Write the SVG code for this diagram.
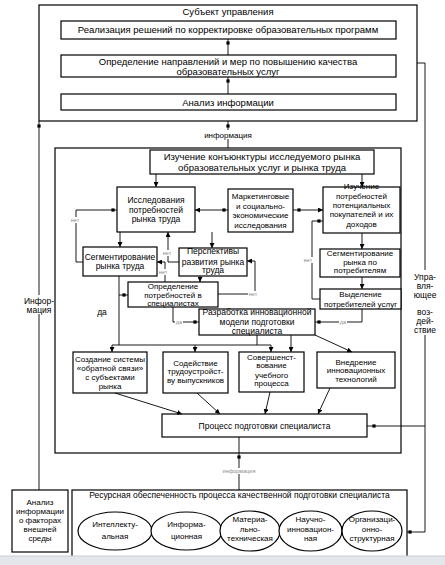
<svg xmlns="http://www.w3.org/2000/svg" width="445" height="565" viewBox="0 0 445 565">
<defs>
<style>
.b{fill:#fff;stroke:#000;stroke-width:1.2}
.f{fill:none;stroke:#000;stroke-width:1.2}
.c{fill:none;stroke:#000;stroke-width:0.9}
.a{marker-end:url(#ar)}
.wb{fill:#fff;stroke:none}
text{font-family:"Liberation Sans",Arial,sans-serif;text-anchor:middle;fill:#000}
.t{font-size:8.5px}
.n{font-size:8px}
.h{font-size:9.5px}
.s{font-size:5.5px;fill:#8c8c8c}
</style>
<marker id="ar" viewBox="0 0 6 6" refX="6" refY="3" markerWidth="5" markerHeight="5" orient="auto" markerUnits="userSpaceOnUse"><path d="M0,0 L6,3 L0,6 z" fill="#000"/></marker>
<rect id="sq" x="-1.6" y="-1.6" width="3.2" height="3.2" fill="#000"/>
</defs>
<rect width="445" height="565" fill="#fff"/>

<g id="subject"><rect class="f" x="39" y="5" width="378" height="116"/><text class="h" x="228" y="14.5">Субъект управления</text></g>
<g id="realization"><rect class="b" x="61" y="21" width="335" height="18"/><text class="h" x="228" y="33">Реализация решений по корректировке образовательных программ</text></g>
<g id="directions"><rect class="b" x="61" y="55" width="335" height="22"/><text class="h" x="228" y="64.5">Определение направлений и мер по повышению качества</text><text class="h" x="228" y="74.5">образовательных услуг</text></g>
<g id="analysis"><rect class="b" x="61" y="94" width="335" height="16"/><text class="h" x="228" y="105.5">Анализ информации</text></g>

<g id="market-frame"><rect class="f" x="55" y="148" width="346" height="305"/></g>
<g id="conjuncture"><rect class="b" x="150" y="150" width="224" height="24"/><text class="h" x="262" y="159.5">Изучение конъюнктуры исследуемого рынка</text><text class="h" x="262" y="170.5">образовательных услуг и рынка труда</text></g>
<g id="labor-research"><rect class="b" x="117" y="187" width="78" height="45"/><text class="t" x="156" y="203">Исследования</text><text class="t" x="156" y="212.5">потребностей</text><text class="t" x="156" y="222">рынка труда</text></g>
<g id="marketing"><rect class="b" x="228" y="189" width="65" height="43"/><text class="n" x="260.5" y="199">Маркетинговые</text><text class="n" x="260.5" y="208.5">и социально-</text><text class="n" x="260.5" y="218">экономические</text><text class="n" x="260.5" y="227.5">исследования</text></g>
<g id="buyers"><rect class="b" x="323" y="187" width="77" height="46"/><text class="n" x="361.5" y="189">Изучение</text><text class="n" x="361.5" y="198.5">потребностей</text><text class="n" x="361.5" y="208">потенциальных</text><text class="n" x="361.5" y="217">покупателей и их</text><text class="n" x="361.5" y="226.5">доходов</text></g>
<g id="labor-seg"><rect class="b" x="83" y="247" width="74" height="29"/><text class="t" x="120" y="259.5">Сегментирование</text><text class="t" x="120" y="269">рынка труда</text></g>
<g id="prospects"><rect class="b" x="179" y="248" width="68" height="28"/><text class="t" x="213" y="254">Перспективы</text><text class="t" x="213" y="264.5">развития рынка</text><text class="t" x="213" y="273">труда</text></g>
<g id="needs"><rect class="b" x="128" y="282" width="90" height="25"/><text class="n" x="173" y="289">Определение</text><text class="n" x="173" y="297.5">потребностей в</text><text class="n" x="173" y="306">специалистах</text></g>
<g id="consumer-seg"><rect class="b" x="320" y="249" width="80" height="28"/><text class="n" x="360" y="256">Сегментирование</text><text class="n" x="360" y="264.5">рынка по</text><text class="n" x="360" y="272.5">потребителям</text></g>
<g id="consumers"><rect class="b" x="320" y="289" width="81" height="20"/><text class="n" x="360.5" y="297">Выделение</text><text class="n" x="360.5" y="307">потребителей услуг</text></g>
<g id="model"><rect class="b" x="199" y="309" width="116" height="26"/><text class="t" x="257" y="315">Разработка инновационной</text><text class="t" x="257" y="325">модели подготовки</text><text class="t" x="257" y="334">специалиста</text></g>
<g id="feedback"><rect class="b" x="73" y="352" width="74" height="41"/><text class="n" x="110" y="361.5">Создание системы</text><text class="n" x="110" y="370.5">«обратной связи»</text><text class="n" x="110" y="379.5">с субъектами</text><text class="n" x="110" y="388.5">рынка</text></g>
<g id="employment"><rect class="b" x="163" y="352" width="65" height="41"/><text class="n" x="195.5" y="365.5">Содействие</text><text class="n" x="195.5" y="374">трудоустройст-</text><text class="n" x="195.5" y="382.5">ву выпускников</text></g>
<g id="improvement"><rect class="b" x="239" y="352" width="65" height="40"/><text class="n" x="271.5" y="359.5">Совершенст-</text><text class="n" x="271.5" y="368">вование</text><text class="n" x="271.5" y="377.5">учебного</text><text class="n" x="271.5" y="386">процесса</text></g>
<g id="innovation"><rect class="b" x="317" y="352" width="78" height="36"/><text class="n" x="356" y="364.5">Внедрение</text><text class="n" x="356" y="373">инновационных</text><text class="n" x="356" y="381.5">технологий</text></g>
<g id="process"><rect class="b" x="162" y="414" width="205" height="23"/><text class="t" x="264.5" y="429">Процесс подготовки специалиста</text></g>
<g id="external"><rect class="b" x="12" y="490" width="56" height="62"/><text class="n" x="40" y="505">Анализ</text><text class="n" x="40" y="514">информации</text><text class="n" x="40" y="523">о факторах</text><text class="n" x="40" y="532">внешней</text><text class="n" x="40" y="541">среды</text></g>
<g id="resources"><rect class="f" x="72" y="490" width="335" height="75"/><text class="t" x="239.5" y="497.5">Ресурсная обеспеченность процесса качественной подготовки специалиста</text></g>
<g id="intellectual"><ellipse class="b" cx="115" cy="531" rx="37" ry="19"/><text class="n" x="115" y="527">Интеллекту-</text><text class="n" x="115" y="539">альная</text></g>
<g id="informational"><ellipse class="b" cx="186.5" cy="531" rx="35.5" ry="19"/><text class="n" x="186.5" y="527">Информа-</text><text class="n" x="186.5" y="539">ционная</text></g>
<g id="material"><ellipse class="b" cx="250" cy="531" rx="30" ry="20"/><text class="n" x="250" y="522">Материа-</text><text class="n" x="250" y="531.5">льно-</text><text class="n" x="250" y="541">техническая</text></g>
<g id="scientific"><ellipse class="b" cx="310.5" cy="531" rx="31.5" ry="20"/><text class="n" x="310.5" y="522">Научно-</text><text class="n" x="310.5" y="531.5">инновацион-</text><text class="n" x="310.5" y="541">ная</text></g>
<g id="organizational"><ellipse class="b" cx="372" cy="531" rx="30" ry="20"/><text class="n" x="372" y="522">Организаци-</text><text class="n" x="372" y="531.5">онно-</text><text class="n" x="372" y="541">структурная</text></g>

<g id="connectors">
<line class="c" x1="228" y1="39" x2="228" y2="55"/><use href="#sq" x="228" y="43"/>
<line class="c" x1="228" y1="77" x2="228" y2="94"/><use href="#sq" x="228" y="81"/>
<line class="c" x1="228" y1="121" x2="228" y2="148"/><use href="#sq" x="228" y="126"/>
<line class="c" x1="39" y1="121" x2="39" y2="490"/><use href="#sq" x="39" y="126"/>
<polyline class="c" points="417,63 425,63 425,532 407,532"/><use href="#sq" x="410" y="532"/>
<line class="c" x1="425" y1="426" x2="367" y2="426"/><use href="#sq" x="374" y="426"/>

<line class="c a" x1="156" y1="174" x2="156" y2="187"/>
<line class="c a" x1="362" y1="174" x2="362" y2="187"/>
<line class="c a" x1="228" y1="210" x2="195" y2="210"/><use href="#sq" x="224" y="210"/>
<line class="c a" x1="293" y1="210" x2="323" y2="210"/><use href="#sq" x="299" y="210"/>
<line class="c a" x1="120" y1="232" x2="120" y2="247"/>
<line class="c a" x1="212" y1="232" x2="212" y2="248"/>
<polyline class="c a" points="179,262 168,262 168,232"/>
<polyline class="c" points="83,262 76,262 76,210 117,210"/><use href="#sq" x="113" y="210"/>
<polyline class="c a" points="165,282 165,262 157,262"/>
<line class="c a" x1="200" y1="276" x2="200" y2="282"/>
<polyline class="c a" points="218,294 255,294 255,261 247,261"/>
<line class="c" x1="119" y1="276" x2="119" y2="345"/>
<line class="c" x1="119" y1="295" x2="128" y2="295"/><use href="#sq" x="124" y="295"/>
<line class="c" x1="112" y1="345" x2="271" y2="345"/>
<line class="c a" x1="112" y1="345" x2="112" y2="352"/>
<line class="c a" x1="195" y1="345" x2="195" y2="352"/>
<line class="c a" x1="271" y1="345" x2="271" y2="352"/>
<polyline class="c" points="173,307 173,322 199,322"/><use href="#sq" x="195" y="322"/>
<line class="c" x1="257" y1="335" x2="257" y2="345"/>
<line class="c a" x1="291" y1="335" x2="291" y2="352"/>
<line class="c a" x1="315" y1="335" x2="352" y2="352"/>
<line class="c a" x1="362" y1="233" x2="362" y2="249"/>
<line class="c a" x1="362" y1="277" x2="362" y2="289"/>
<polyline class="c" points="320,299 312,299 312,221 323,221"/><use href="#sq" x="319" y="221"/>
<polyline class="c" points="362,309 362,322 315,322"/><use href="#sq" x="319" y="322"/>
<line class="c a" x1="115" y1="393" x2="182" y2="414"/>
<line class="c a" x1="197" y1="393" x2="220" y2="414"/>
<line class="c a" x1="270" y1="392" x2="265" y2="414"/>
<line class="c a" x1="330" y1="388" x2="318" y2="414"/>
<line class="c" x1="239" y1="437" x2="239" y2="490"/><use href="#sq" x="239" y="457"/>
</g>

<g id="labels">
<rect class="wb" x="202" y="130" width="52" height="9"/><text class="n" x="228" y="137.5">информация</text>
<rect class="wb" x="24" y="295" width="30" height="19"/><text class="t" x="39" y="304">Инфор-</text><text class="t" x="39" y="313">мация</text>
<rect class="wb" x="410" y="270" width="30" height="65"/>
<text class="t" x="425" y="280">Упра-</text><text class="t" x="425" y="289">вля-</text><text class="t" x="425" y="298">ющее</text>
<text class="t" x="425" y="315">воз-</text><text class="t" x="425" y="324">дей-</text><text class="t" x="425" y="333">ствие</text>
<text class="t" x="102" y="315">да</text>
<rect class="wb" x="162" y="250" width="10" height="6"/><text class="s" x="167" y="255">нет</text>
<rect class="wb" x="70" y="217" width="10" height="6"/><text class="s" x="75" y="222">нет</text>
<rect class="wb" x="158" y="269" width="10" height="6"/><text class="s" x="163" y="274">нет</text>
<rect class="wb" x="248" y="291" width="11" height="6"/><text class="s" x="253" y="296">нет</text>
<rect class="wb" x="303" y="257" width="10" height="6"/><text class="s" x="308" y="262">нет</text>
<rect class="wb" x="175" y="319" width="8" height="6"/><text class="s" x="179" y="324">да</text>
<rect class="wb" x="339" y="319" width="8" height="6"/><text class="s" x="343" y="324">да</text>
<rect class="wb" x="221" y="468" width="36" height="6"/><text class="s" x="239" y="473">информация</text>
</g>

<rect x="0" y="556" width="445" height="9" fill="#e3e7ec"/>
<line x1="0" y1="556" x2="445" y2="556" stroke="#c9ced5" stroke-width="1"/>
</svg>
